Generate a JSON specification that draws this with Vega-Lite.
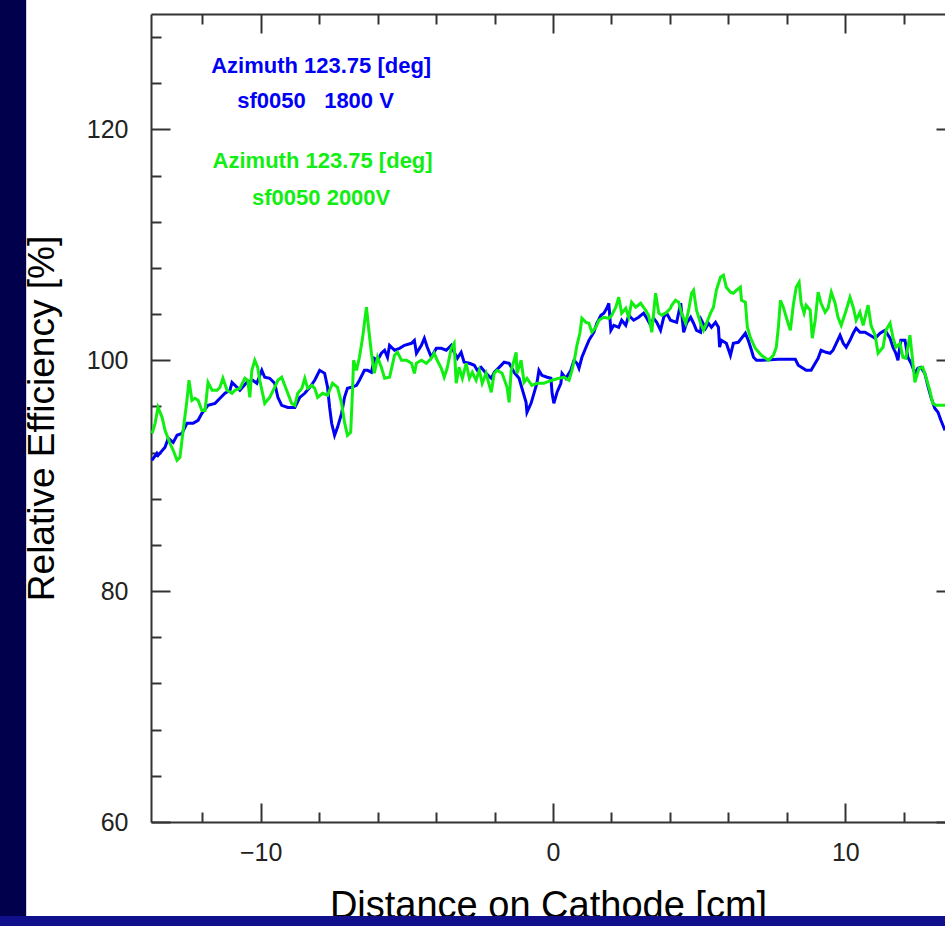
{
  "$schema": "https://vega.github.io/schema/vega-lite/v6.json",
  "width": 794,
  "height": 808,
  "autosize": {"type": "none"},
  "padding": {"left": 151, "top": 14, "right": 0, "bottom": 104},
  "background": "white",
  "config": {
    "view": {"stroke": null},
    "axis": {"grid": false, "labelFont": "Liberation Sans", "titleFont": "Liberation Sans"}
  },
  "layer": [
    {
      "data": {"values": [{}]},
      "mark": {"type": "rect", "color": "#00004c", "clip": false},
      "encoding": {
        "x": {"datum": -19.5, "type": "quantitative", "scale": {"domain": [-13.75, 13.41], "nice": false, "zero": false}, "axis": null},
        "x2": {"datum": -18.02},
        "y": {"datum": 50, "type": "quantitative", "scale": {"domain": [60, 130], "nice": false, "zero": false}, "axis": null},
        "y2": {"datum": 133}
      }
    },
    {
      "data": {"values": [{}]},
      "mark": {"type": "rect", "color": "#10108c", "clip": false},
      "encoding": {
        "x": {"datum": -19.5, "type": "quantitative", "scale": {"domain": [-13.75, 13.41], "nice": false, "zero": false}, "axis": null},
        "x2": {"datum": 14},
        "y": {"datum": 50, "type": "quantitative", "scale": {"domain": [60, 130], "nice": false, "zero": false}, "axis": null},
        "y2": {"datum": 51.85}
      }
    },
    {
      "data": {"values": [
        {"series":"1800 V","x":-13.72,"y":91.33},{"series":"1800 V","x":-13.55,"y":91.94},{"series":"1800 V","x":-13.51,"y":91.76},{"series":"1800 V","x":-13.27,"y":92.46},{"series":"1800 V","x":-13.16,"y":93.24},{"series":"1800 V","x":-12.99,"y":92.89},{"series":"1800 V","x":-12.86,"y":93.5},{"series":"1800 V","x":-12.69,"y":93.67},{"series":"1800 V","x":-12.52,"y":94.54},{"series":"1800 V","x":-12.31,"y":94.54},{"series":"1800 V","x":-12.14,"y":94.8},{"series":"1800 V","x":-12.01,"y":95.4},{"series":"1800 V","x":-11.8,"y":96.1},{"series":"1800 V","x":-11.56,"y":96.27},{"series":"1800 V","x":-11.39,"y":96.71},{"series":"1800 V","x":-11.22,"y":97.14},{"series":"1800 V","x":-11.05,"y":97.4},{"series":"1800 V","x":-10.98,"y":98.09},{"series":"1800 V","x":-10.81,"y":97.66},{"series":"1800 V","x":-10.71,"y":97.4},{"series":"1800 V","x":-10.47,"y":98.09},{"series":"1800 V","x":-10.27,"y":98.27},{"series":"1800 V","x":-10.13,"y":98.01},{"series":"1800 V","x":-9.96,"y":99.13},{"series":"1800 V","x":-9.86,"y":98.53},{"series":"1800 V","x":-9.69,"y":98.44},{"series":"1800 V","x":-9.52,"y":98.01},{"series":"1800 V","x":-9.41,"y":96.79},{"series":"1800 V","x":-9.28,"y":96.1},{"series":"1800 V","x":-9.07,"y":95.92},{"series":"1800 V","x":-8.83,"y":95.92},{"series":"1800 V","x":-8.66,"y":96.79},{"series":"1800 V","x":-8.49,"y":97.14},{"series":"1800 V","x":-8.32,"y":97.66},{"series":"1800 V","x":-8.15,"y":98.27},{"series":"1800 V","x":-7.98,"y":99.13},{"series":"1800 V","x":-7.81,"y":98.87},{"series":"1800 V","x":-7.71,"y":97.66},{"series":"1800 V","x":-7.64,"y":95.92},{"series":"1800 V","x":-7.57,"y":94.54},{"series":"1800 V","x":-7.47,"y":93.5},{"series":"1800 V","x":-7.37,"y":94.19},{"series":"1800 V","x":-7.23,"y":95.4},{"series":"1800 V","x":-7.13,"y":96.79},{"series":"1800 V","x":-7.03,"y":97.57},{"series":"1800 V","x":-6.89,"y":97.66},{"series":"1800 V","x":-6.72,"y":97.83},{"series":"1800 V","x":-6.62,"y":98.27},{"series":"1800 V","x":-6.45,"y":99.13},{"series":"1800 V","x":-6.34,"y":99.13},{"series":"1800 V","x":-6.21,"y":98.96},{"series":"1800 V","x":-6.11,"y":100.17},{"series":"1800 V","x":-6.0,"y":100.0},{"series":"1800 V","x":-5.87,"y":100.61},{"series":"1800 V","x":-5.76,"y":100.87},{"series":"1800 V","x":-5.66,"y":100.26},{"series":"1800 V","x":-5.59,"y":101.3},{"series":"1800 V","x":-5.42,"y":100.87},{"series":"1800 V","x":-5.25,"y":101.04},{"series":"1800 V","x":-5.08,"y":101.3},{"series":"1800 V","x":-4.84,"y":101.47},{"series":"1800 V","x":-4.74,"y":101.73},{"series":"1800 V","x":-4.67,"y":100.61},{"series":"1800 V","x":-4.5,"y":101.3},{"series":"1800 V","x":-4.4,"y":101.91},{"series":"1800 V","x":-4.3,"y":101.13},{"series":"1800 V","x":-4.16,"y":100.26},{"series":"1800 V","x":-3.99,"y":101.04},{"series":"1800 V","x":-3.82,"y":101.04},{"series":"1800 V","x":-3.65,"y":100.87},{"series":"1800 V","x":-3.48,"y":101.3},{"series":"1800 V","x":-3.38,"y":100.69},{"series":"1800 V","x":-3.27,"y":100.17},{"series":"1800 V","x":-3.14,"y":100.69},{"series":"1800 V","x":-3.04,"y":99.83},{"series":"1800 V","x":-2.86,"y":99.74},{"series":"1800 V","x":-2.69,"y":99.57},{"series":"1800 V","x":-2.59,"y":99.13},{"series":"1800 V","x":-2.46,"y":99.39},{"series":"1800 V","x":-2.29,"y":98.87},{"series":"1800 V","x":-2.11,"y":98.44},{"series":"1800 V","x":-2.01,"y":98.96},{"series":"1800 V","x":-1.84,"y":99.39},{"series":"1800 V","x":-1.67,"y":99.83},{"series":"1800 V","x":-1.5,"y":99.74},{"series":"1800 V","x":-1.33,"y":98.96},{"series":"1800 V","x":-1.16,"y":98.44},{"series":"1800 V","x":-1.06,"y":97.57},{"series":"1800 V","x":-0.92,"y":96.36},{"series":"1800 V","x":-0.89,"y":95.49},{"series":"1800 V","x":-0.75,"y":96.27},{"series":"1800 V","x":-0.65,"y":97.14},{"series":"1800 V","x":-0.55,"y":98.01},{"series":"1800 V","x":-0.48,"y":99.13},{"series":"1800 V","x":-0.38,"y":98.7},{"series":"1800 V","x":-0.2,"y":98.53},{"series":"1800 V","x":-0.07,"y":98.44},{"series":"1800 V","x":-0.03,"y":97.14},{"series":"1800 V","x":0.03,"y":96.27},{"series":"1800 V","x":0.14,"y":97.23},{"series":"1800 V","x":0.27,"y":98.01},{"series":"1800 V","x":0.31,"y":98.87},{"series":"1800 V","x":0.44,"y":98.44},{"series":"1800 V","x":0.61,"y":99.13},{"series":"1800 V","x":0.72,"y":100.0},{"series":"1800 V","x":0.82,"y":99.74},{"series":"1800 V","x":0.89,"y":99.31},{"series":"1800 V","x":0.99,"y":100.26},{"series":"1800 V","x":1.13,"y":101.13},{"series":"1800 V","x":1.23,"y":101.73},{"series":"1800 V","x":1.4,"y":102.43},{"series":"1800 V","x":1.5,"y":103.21},{"series":"1800 V","x":1.64,"y":103.9},{"series":"1800 V","x":1.74,"y":104.08},{"series":"1800 V","x":1.84,"y":104.51},{"series":"1800 V","x":1.91,"y":104.94},{"series":"1800 V","x":1.98,"y":102.6},{"series":"1800 V","x":2.08,"y":103.03},{"series":"1800 V","x":2.25,"y":102.86},{"series":"1800 V","x":2.35,"y":103.47},{"series":"1800 V","x":2.49,"y":103.03},{"series":"1800 V","x":2.59,"y":103.9},{"series":"1800 V","x":2.76,"y":103.47},{"series":"1800 V","x":2.93,"y":103.73},{"series":"1800 V","x":3.1,"y":104.08},{"series":"1800 V","x":3.21,"y":103.64},{"series":"1800 V","x":3.34,"y":103.03},{"series":"1800 V","x":3.44,"y":103.64},{"series":"1800 V","x":3.55,"y":103.29},{"series":"1800 V","x":3.68,"y":102.6},{"series":"1800 V","x":3.79,"y":103.73},{"series":"1800 V","x":3.89,"y":104.08},{"series":"1800 V","x":4.02,"y":103.47},{"series":"1800 V","x":4.23,"y":103.29},{"series":"1800 V","x":4.37,"y":104.94},{"series":"1800 V","x":4.47,"y":102.43},{"series":"1800 V","x":4.57,"y":103.21},{"series":"1800 V","x":4.71,"y":103.73},{"series":"1800 V","x":4.81,"y":103.21},{"series":"1800 V","x":4.91,"y":102.6},{"series":"1800 V","x":5.05,"y":102.43},{"series":"1800 V","x":5.08,"y":103.47},{"series":"1800 V","x":5.22,"y":102.77},{"series":"1800 V","x":5.32,"y":103.21},{"series":"1800 V","x":5.42,"y":102.86},{"series":"1800 V","x":5.56,"y":103.29},{"series":"1800 V","x":5.66,"y":102.86},{"series":"1800 V","x":5.7,"y":101.13},{"series":"1800 V","x":5.76,"y":101.73},{"series":"1800 V","x":5.93,"y":101.47},{"series":"1800 V","x":6.07,"y":100.43},{"series":"1800 V","x":6.17,"y":101.47},{"series":"1800 V","x":6.34,"y":101.56},{"series":"1800 V","x":6.45,"y":101.91},{"series":"1800 V","x":6.58,"y":102.34},{"series":"1800 V","x":6.68,"y":101.73},{"series":"1800 V","x":6.79,"y":100.87},{"series":"1800 V","x":6.86,"y":100.26},{"series":"1800 V","x":6.96,"y":100.0},{"series":"1800 V","x":7.13,"y":100.0},{"series":"1800 V","x":7.71,"y":100.09},{"series":"1800 V","x":8.29,"y":100.09},{"series":"1800 V","x":8.39,"y":99.57},{"series":"1800 V","x":8.66,"y":99.13},{"series":"1800 V","x":8.83,"y":99.13},{"series":"1800 V","x":8.97,"y":99.74},{"series":"1800 V","x":9.07,"y":100.17},{"series":"1800 V","x":9.17,"y":100.87},{"series":"1800 V","x":9.34,"y":100.69},{"series":"1800 V","x":9.48,"y":100.61},{"series":"1800 V","x":9.58,"y":100.87},{"series":"1800 V","x":9.69,"y":101.47},{"series":"1800 V","x":9.82,"y":102.17},{"series":"1800 V","x":9.93,"y":101.47},{"series":"1800 V","x":10.03,"y":101.13},{"series":"1800 V","x":10.16,"y":101.73},{"series":"1800 V","x":10.27,"y":102.34},{"series":"1800 V","x":10.37,"y":102.77},{"series":"1800 V","x":10.5,"y":102.43},{"series":"1800 V","x":10.67,"y":102.43},{"series":"1800 V","x":10.85,"y":102.17},{"series":"1800 V","x":11.02,"y":101.91},{"series":"1800 V","x":11.19,"y":102.34},{"series":"1800 V","x":11.36,"y":102.6},{"series":"1800 V","x":11.53,"y":101.91},{"series":"1800 V","x":11.63,"y":101.13},{"series":"1800 V","x":11.73,"y":100.61},{"series":"1800 V","x":11.8,"y":100.0},{"series":"1800 V","x":11.9,"y":101.73},{"series":"1800 V","x":12.04,"y":101.73},{"series":"1800 V","x":12.14,"y":100.26},{"series":"1800 V","x":12.25,"y":99.74},{"series":"1800 V","x":12.38,"y":98.87},{"series":"1800 V","x":12.48,"y":99.31},{"series":"1800 V","x":12.59,"y":99.39},{"series":"1800 V","x":12.72,"y":98.87},{"series":"1800 V","x":12.82,"y":97.83},{"series":"1800 V","x":12.93,"y":96.79},{"series":"1800 V","x":13.06,"y":95.84},{"series":"1800 V","x":13.17,"y":95.49},{"series":"1800 V","x":13.27,"y":94.8},{"series":"1800 V","x":13.41,"y":93.93},
        {"series":"2000 V","x":-13.71,"y":93.67},{"series":"2000 V","x":-13.61,"y":94.54},{"series":"2000 V","x":-13.51,"y":95.92},{"series":"2000 V","x":-13.37,"y":95.06},{"series":"2000 V","x":-13.27,"y":93.93},{"series":"2000 V","x":-13.1,"y":92.8},{"series":"2000 V","x":-12.99,"y":92.2},{"series":"2000 V","x":-12.86,"y":91.33},{"series":"2000 V","x":-12.76,"y":91.59},{"series":"2000 V","x":-12.65,"y":93.93},{"series":"2000 V","x":-12.52,"y":96.53},{"series":"2000 V","x":-12.45,"y":98.27},{"series":"2000 V","x":-12.35,"y":96.53},{"series":"2000 V","x":-12.25,"y":96.71},{"series":"2000 V","x":-12.14,"y":96.53},{"series":"2000 V","x":-12.01,"y":95.66},{"series":"2000 V","x":-11.9,"y":95.66},{"series":"2000 V","x":-11.8,"y":98.09},{"series":"2000 V","x":-11.66,"y":97.4},{"series":"2000 V","x":-11.49,"y":97.4},{"series":"2000 V","x":-11.39,"y":97.66},{"series":"2000 V","x":-11.29,"y":98.44},{"series":"2000 V","x":-11.15,"y":97.4},{"series":"2000 V","x":-10.98,"y":97.14},{"series":"2000 V","x":-10.88,"y":97.4},{"series":"2000 V","x":-10.71,"y":97.57},{"series":"2000 V","x":-10.54,"y":98.44},{"series":"2000 V","x":-10.44,"y":98.27},{"series":"2000 V","x":-10.37,"y":96.79},{"series":"2000 V","x":-10.3,"y":99.13},{"series":"2000 V","x":-10.2,"y":100.0},{"series":"2000 V","x":-10.1,"y":99.39},{"series":"2000 V","x":-10.03,"y":98.27},{"series":"2000 V","x":-9.86,"y":96.27},{"series":"2000 V","x":-9.69,"y":96.79},{"series":"2000 V","x":-9.52,"y":97.66},{"series":"2000 V","x":-9.41,"y":98.27},{"series":"2000 V","x":-9.28,"y":98.53},{"series":"2000 V","x":-9.11,"y":97.4},{"series":"2000 V","x":-8.94,"y":96.27},{"series":"2000 V","x":-8.83,"y":96.1},{"series":"2000 V","x":-8.73,"y":97.14},{"series":"2000 V","x":-8.59,"y":97.57},{"series":"2000 V","x":-8.49,"y":98.44},{"series":"2000 V","x":-8.39,"y":97.57},{"series":"2000 V","x":-8.25,"y":97.83},{"series":"2000 V","x":-8.15,"y":97.57},{"series":"2000 V","x":-8.05,"y":96.79},{"series":"2000 V","x":-7.88,"y":97.14},{"series":"2000 V","x":-7.71,"y":96.97},{"series":"2000 V","x":-7.54,"y":98.01},{"series":"2000 V","x":-7.37,"y":97.66},{"series":"2000 V","x":-7.23,"y":96.27},{"series":"2000 V","x":-7.13,"y":94.62},{"series":"2000 V","x":-7.03,"y":93.5},{"series":"2000 V","x":-6.92,"y":93.76},{"series":"2000 V","x":-6.86,"y":97.14},{"series":"2000 V","x":-6.82,"y":100.0},{"series":"2000 V","x":-6.72,"y":99.13},{"series":"2000 V","x":-6.62,"y":100.26},{"series":"2000 V","x":-6.51,"y":101.99},{"series":"2000 V","x":-6.45,"y":103.21},{"series":"2000 V","x":-6.38,"y":104.6},{"series":"2000 V","x":-6.31,"y":102.86},{"series":"2000 V","x":-6.21,"y":100.61},{"series":"2000 V","x":-6.11,"y":98.87},{"series":"2000 V","x":-6.0,"y":100.26},{"series":"2000 V","x":-5.87,"y":99.39},{"series":"2000 V","x":-5.76,"y":98.44},{"series":"2000 V","x":-5.59,"y":98.53},{"series":"2000 V","x":-5.42,"y":100.43},{"series":"2000 V","x":-5.32,"y":100.69},{"series":"2000 V","x":-5.18,"y":100.0},{"series":"2000 V","x":-5.01,"y":100.0},{"series":"2000 V","x":-4.84,"y":99.74},{"series":"2000 V","x":-4.74,"y":98.87},{"series":"2000 V","x":-4.67,"y":99.74},{"series":"2000 V","x":-4.5,"y":100.0},{"series":"2000 V","x":-4.33,"y":99.74},{"series":"2000 V","x":-4.16,"y":100.17},{"series":"2000 V","x":-4.06,"y":100.61},{"series":"2000 V","x":-3.96,"y":100.0},{"series":"2000 V","x":-3.82,"y":99.31},{"series":"2000 V","x":-3.72,"y":98.53},{"series":"2000 V","x":-3.62,"y":99.31},{"series":"2000 V","x":-3.48,"y":101.04},{"series":"2000 V","x":-3.38,"y":101.47},{"series":"2000 V","x":-3.31,"y":98.01},{"series":"2000 V","x":-3.21,"y":99.39},{"series":"2000 V","x":-3.1,"y":98.44},{"series":"2000 V","x":-2.97,"y":99.74},{"series":"2000 V","x":-2.86,"y":98.44},{"series":"2000 V","x":-2.76,"y":98.96},{"series":"2000 V","x":-2.63,"y":98.27},{"series":"2000 V","x":-2.52,"y":99.13},{"series":"2000 V","x":-2.42,"y":98.01},{"series":"2000 V","x":-2.29,"y":98.87},{"series":"2000 V","x":-2.11,"y":97.23},{"series":"2000 V","x":-2.01,"y":98.87},{"series":"2000 V","x":-1.91,"y":99.13},{"series":"2000 V","x":-1.74,"y":98.87},{"series":"2000 V","x":-1.57,"y":97.66},{"series":"2000 V","x":-1.5,"y":96.36},{"series":"2000 V","x":-1.43,"y":99.13},{"series":"2000 V","x":-1.33,"y":100.0},{"series":"2000 V","x":-1.26,"y":100.69},{"series":"2000 V","x":-1.23,"y":98.87},{"series":"2000 V","x":-1.09,"y":100.0},{"series":"2000 V","x":-0.99,"y":98.09},{"series":"2000 V","x":-0.89,"y":98.44},{"series":"2000 V","x":-0.72,"y":97.83},{"series":"2000 V","x":-0.55,"y":98.01},{"series":"2000 V","x":-0.31,"y":98.01},{"series":"2000 V","x":-0.24,"y":98.09},{"series":"2000 V","x":-0.03,"y":98.27},{"series":"2000 V","x":0.2,"y":98.44},{"series":"2000 V","x":0.38,"y":98.53},{"series":"2000 V","x":0.55,"y":98.27},{"series":"2000 V","x":0.65,"y":99.13},{"series":"2000 V","x":0.75,"y":100.26},{"series":"2000 V","x":0.82,"y":101.3},{"series":"2000 V","x":0.92,"y":102.34},{"series":"2000 V","x":0.99,"y":103.64},{"series":"2000 V","x":1.13,"y":103.29},{"series":"2000 V","x":1.23,"y":103.21},{"series":"2000 V","x":1.33,"y":102.43},{"series":"2000 V","x":1.47,"y":102.86},{"series":"2000 V","x":1.57,"y":103.47},{"series":"2000 V","x":1.74,"y":103.73},{"series":"2000 V","x":1.91,"y":103.64},{"series":"2000 V","x":2.01,"y":103.9},{"series":"2000 V","x":2.15,"y":104.6},{"series":"2000 V","x":2.25,"y":105.46},{"series":"2000 V","x":2.35,"y":104.08},{"series":"2000 V","x":2.49,"y":104.51},{"series":"2000 V","x":2.59,"y":103.73},{"series":"2000 V","x":2.69,"y":105.03},{"series":"2000 V","x":2.83,"y":104.6},{"series":"2000 V","x":3.0,"y":104.94},{"series":"2000 V","x":3.17,"y":104.34},{"series":"2000 V","x":3.27,"y":103.9},{"series":"2000 V","x":3.38,"y":102.43},{"series":"2000 V","x":3.51,"y":105.81},{"series":"2000 V","x":3.62,"y":104.08},{"series":"2000 V","x":3.72,"y":103.9},{"series":"2000 V","x":3.89,"y":104.16},{"series":"2000 V","x":4.02,"y":104.51},{"series":"2000 V","x":4.06,"y":104.77},{"series":"2000 V","x":4.19,"y":105.2},{"series":"2000 V","x":4.3,"y":105.03},{"series":"2000 V","x":4.4,"y":104.08},{"series":"2000 V","x":4.54,"y":103.21},{"series":"2000 V","x":4.64,"y":104.34},{"series":"2000 V","x":4.74,"y":105.81},{"series":"2000 V","x":4.81,"y":106.07},{"series":"2000 V","x":4.91,"y":104.34},{"series":"2000 V","x":5.05,"y":103.21},{"series":"2000 V","x":5.15,"y":102.6},{"series":"2000 V","x":5.25,"y":103.21},{"series":"2000 V","x":5.39,"y":104.08},{"series":"2000 V","x":5.49,"y":104.6},{"series":"2000 V","x":5.59,"y":106.07},{"series":"2000 V","x":5.73,"y":107.2},{"series":"2000 V","x":5.83,"y":107.37},{"series":"2000 V","x":5.93,"y":106.33},{"series":"2000 V","x":6.07,"y":105.9},{"series":"2000 V","x":6.17,"y":105.81},{"series":"2000 V","x":6.28,"y":106.07},{"series":"2000 V","x":6.41,"y":106.33},{"series":"2000 V","x":6.45,"y":105.2},{"series":"2000 V","x":6.58,"y":105.03},{"series":"2000 V","x":6.65,"y":102.86},{"series":"2000 V","x":6.75,"y":101.99},{"series":"2000 V","x":6.92,"y":101.04},{"series":"2000 V","x":7.13,"y":100.43},{"series":"2000 V","x":7.37,"y":100.0},{"series":"2000 V","x":7.54,"y":100.43},{"series":"2000 V","x":7.64,"y":101.13},{"series":"2000 V","x":7.71,"y":102.86},{"series":"2000 V","x":7.78,"y":105.2},{"series":"2000 V","x":7.88,"y":104.6},{"series":"2000 V","x":7.98,"y":103.73},{"series":"2000 V","x":8.12,"y":102.6},{"series":"2000 V","x":8.22,"y":104.77},{"series":"2000 V","x":8.32,"y":106.33},{"series":"2000 V","x":8.42,"y":106.76},{"series":"2000 V","x":8.49,"y":104.94},{"series":"2000 V","x":8.59,"y":104.08},{"series":"2000 V","x":8.66,"y":104.77},{"series":"2000 V","x":8.8,"y":104.34},{"series":"2000 V","x":8.87,"y":101.91},{"series":"2000 V","x":8.97,"y":103.47},{"series":"2000 V","x":9.07,"y":105.9},{"series":"2000 V","x":9.17,"y":104.94},{"series":"2000 V","x":9.31,"y":104.16},{"series":"2000 V","x":9.41,"y":104.51},{"series":"2000 V","x":9.52,"y":105.9},{"series":"2000 V","x":9.65,"y":104.94},{"series":"2000 V","x":9.75,"y":103.73},{"series":"2000 V","x":9.86,"y":103.03},{"series":"2000 V","x":10.03,"y":104.34},{"series":"2000 V","x":10.16,"y":105.46},{"series":"2000 V","x":10.27,"y":104.6},{"series":"2000 V","x":10.37,"y":103.47},{"series":"2000 V","x":10.5,"y":104.16},{"series":"2000 V","x":10.61,"y":103.03},{"series":"2000 V","x":10.78,"y":104.77},{"series":"2000 V","x":10.88,"y":103.03},{"series":"2000 V","x":11.02,"y":102.17},{"series":"2000 V","x":11.12,"y":100.61},{"series":"2000 V","x":11.29,"y":101.13},{"series":"2000 V","x":11.39,"y":102.6},{"series":"2000 V","x":11.53,"y":103.21},{"series":"2000 V","x":11.63,"y":101.99},{"series":"2000 V","x":11.73,"y":101.13},{"series":"2000 V","x":11.87,"y":101.47},{"series":"2000 V","x":11.97,"y":100.26},{"series":"2000 V","x":12.07,"y":100.17},{"series":"2000 V","x":12.21,"y":102.17},{"series":"2000 V","x":12.31,"y":99.83},{"series":"2000 V","x":12.38,"y":98.09},{"series":"2000 V","x":12.52,"y":99.31},{"series":"2000 V","x":12.65,"y":99.39},{"series":"2000 V","x":12.76,"y":98.53},{"series":"2000 V","x":12.89,"y":97.4},{"series":"2000 V","x":12.99,"y":96.27},{"series":"2000 V","x":13.1,"y":96.1},{"series":"2000 V","x":13.23,"y":96.1},{"series":"2000 V","x":13.41,"y":96.1}
      ]},
      "mark": {"type": "line", "strokeWidth": 3},
      "encoding": {
        "x": {
          "field": "x", "type": "quantitative",
          "scale": {"domain": [-13.75, 13.41], "nice": false, "zero": false},
          "axis": {
            "orient": "bottom",
            "values": [-12, -10, -8, -6, -4, -2, 0, 2, 4, 6, 8, 10, 12],
            "tickSize": {"condition": {"test": "datum.value % 10 === 0", "value": -19}, "value": -10},
            "tickColor": "#333333", "tickWidth": 2,
            "domainColor": "#333333", "domainWidth": 2,
            "labelExpr": "datum.value % 10 === 0 ? datum.label : ''",
            "labelFontSize": 25, "labelColor": "#222222", "labelPadding": 37,
            "labelFlush": false, "labelOverlap": false,
            "title": "Distance on Cathode [cm]",
            "titleFontSize": 38, "titleFontWeight": "normal", "titleColor": "#000000",
            "titleX": 397, "titleY": 95, "titleBaseline": "alphabetic", "titleAlign": "center"
          }
        },
        "y": {
          "field": "y", "type": "quantitative",
          "scale": {"domain": [60, 130], "nice": false, "zero": false},
          "axis": {
            "orient": "left",
            "values": [60, 64, 68, 72, 76, 80, 84, 88, 92, 96, 100, 104, 108, 112, 116, 120, 124, 128],
            "tickSize": {"condition": {"test": "datum.value % 20 === 0", "value": -19}, "value": -10},
            "tickColor": "#333333", "tickWidth": 2,
            "domainColor": "#333333", "domainWidth": 2,
            "labelExpr": "datum.value % 20 === 0 ? datum.label : ''",
            "labelFontSize": 25, "labelColor": "#222222", "labelPadding": 42,
            "labelFlush": false, "labelOverlap": false,
            "title": "Relative Efficiency [%]",
            "titleFontSize": 37, "titleFontWeight": "normal", "titleColor": "#000000",
            "titleX": -98, "titleY": 404, "titleBaseline": "alphabetic", "titleAlign": "center", "titleAngle": -90
          }
        },
        "color": {
          "field": "series", "type": "nominal",
          "scale": {"domain": ["1800 V", "2000 V"], "range": ["#0000f5", "#11ee11"]},
          "legend": null
        }
      }
    },
    {
      "data": {"values": [
        {"series": "1800 V", "x": -7.93, "y": 124.88, "label": "Azimuth 123.75 [deg]"},
        {"series": "1800 V", "x": -8.12, "y": 121.85, "label": "sf0050\u00a0\u00a0\u00a01800 V"},
        {"series": "2000 V", "x": -7.88, "y": 116.65, "label": "Azimuth 123.75 [deg]"},
        {"series": "2000 V", "x": -7.93, "y": 113.44, "label": "sf0050 2000V"}
      ]},
      "mark": {"type": "text", "font": "Liberation Sans", "fontWeight": "bold", "fontSize": 22, "align": "center", "baseline": "alphabetic"},
      "encoding": {
        "x": {
          "field": "x", "type": "quantitative",
          "scale": {"domain": [-13.75, 13.41], "nice": false, "zero": false},
          "axis": {
            "orient": "top",
            "values": [-12, -10, -8, -6, -4, -2, 0, 2, 4, 6, 8, 10, 12],
            "tickSize": {"condition": {"test": "datum.value % 10 === 0", "value": -19}, "value": -10},
            "tickColor": "#333333", "tickWidth": 2,
            "domainColor": "#333333", "domainWidth": 2,
            "labels": false, "title": null
          }
        },
        "y": {
          "field": "y", "type": "quantitative",
          "scale": {"domain": [60, 130], "nice": false, "zero": false},
          "axis": {
            "orient": "right", "offset": 10,
            "values": [60, 64, 68, 72, 76, 80, 84, 88, 92, 96, 100, 104, 108, 112, 116, 120, 124, 128],
            "tickSize": {"condition": {"test": "datum.value % 20 === 0", "value": -19}, "value": -10},
            "tickColor": "#333333", "tickWidth": 2,
            "domain": false,
            "labels": false, "title": null
          }
        },
        "text": {"field": "label", "type": "nominal"},
        "color": {
          "field": "series", "type": "nominal",
          "scale": {"domain": ["1800 V", "2000 V"], "range": ["#0000f5", "#11ee11"]},
          "legend": null
        }
      }
    }
  ]
}
